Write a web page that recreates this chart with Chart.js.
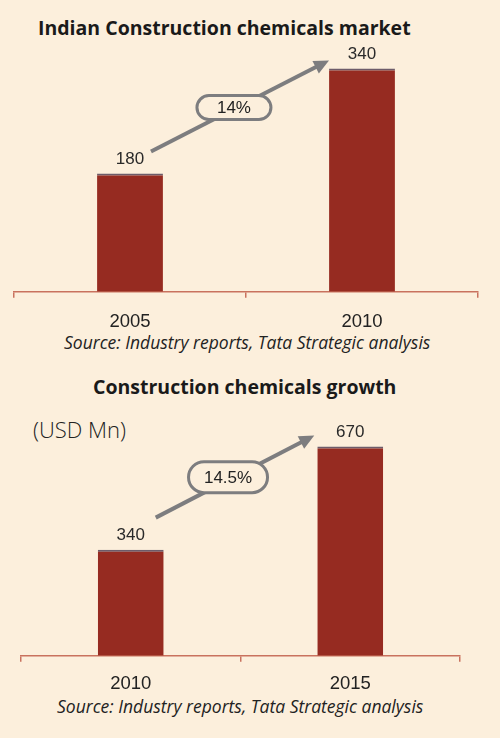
<!DOCTYPE html>
<html><head><meta charset="utf-8">
<script src="https://cdn.jsdelivr.net/npm/chart.js@4.4.1/dist/chart.umd.min.js"></script>
<style>
html,body{margin:0;padding:0;background:#fcefdc;width:500px;height:738px;overflow:hidden}
.t{position:absolute;white-space:nowrap;line-height:1;transform:translateY(-50%)}
.title{font-family:"Open Sans",sans-serif;font-weight:700;font-size:19.5px;color:#1a1a1a}
.src{font-family:"Open Sans",sans-serif;font-style:italic;font-size:17.5px;color:#222}
.unit{font-family:"Open Sans",sans-serif;font-weight:300;font-size:22px;color:#222}
canvas{position:absolute;left:0}
</style></head><body>
<div class="t title" style="left:38px;top:28px">Indian Construction chemicals market</div>
<div class="t src" style="left:64px;top:343px">Source: Industry reports, Tata Strategic analysis</div>
<div class="t title" style="left:93px;top:387px">Construction chemicals growth</div>
<div class="t unit" style="left:33px;top:429px">(USD Mn)</div>
<div class="t src" style="left:57px;top:707px">Source: Industry reports, Tata Strategic analysis</div>
<canvas id="c1" width="500" height="346" style="top:0px"></canvas>
<canvas id="c2" width="500" height="346" style="top:360px"></canvas>
<script>
// ---- data ----
const categories1 = ['2005', '2010'];
const values1 = [180, 340];
const growth1 = '14%';
const categories2 = ['2010', '2015'];
const values2 = [340, 670];
const growth2 = '14.5%';

const BAR = '#962b21';
const AXIS = '#c9725e';
const ARROW = '#7d7d7f';
const BG = '#fcefdc';

const valueLabels = {
  id: 'valueLabels',
  afterDatasetsDraw(chart) {
    const ctx = chart.ctx;
    const meta = chart.getDatasetMeta(0);
    const ds = chart.data.datasets[0];
    ctx.save();
    ctx.font = '17px Arial, "Liberation Sans"';
    ctx.fillStyle = '#2a2a2a';
    ctx.textAlign = 'center';
    ctx.textBaseline = 'middle';
    meta.data.forEach((b, i) => ctx.fillText(String(ds.data[i]), b.x, b.y - 14));
    ctx.restore();
  }
};

const growthArrow = {
  id: 'growthArrow',
  afterDatasetsDraw(chart, args, o) {
    const ctx = chart.ctx;
    const meta = chart.getDatasetMeta(0);
    const b0 = meta.data[0], b1 = meta.data[1];
    const sx = b0.x + o.sx, sy = b0.y + o.sy;
    const ex = b1.x + o.ex, ey = b1.y + o.ey;
    const ang = Math.atan2(ey - sy, ex - sx);
    const hl = 15, hw = 7;
    ctx.save();
    ctx.strokeStyle = ARROW;
    ctx.fillStyle = ARROW;
    ctx.lineWidth = 4;
    ctx.beginPath();
    ctx.moveTo(sx, sy);
    ctx.lineTo(ex - Math.cos(ang) * (hl - 2), ey - Math.sin(ang) * (hl - 2));
    ctx.stroke();
    ctx.beginPath();
    ctx.moveTo(ex, ey);
    ctx.lineTo(ex - Math.cos(ang) * hl - Math.sin(ang) * hw, ey - Math.sin(ang) * hl + Math.cos(ang) * hw);
    ctx.lineTo(ex - Math.cos(ang) * hl + Math.sin(ang) * hw, ey - Math.sin(ang) * hl - Math.cos(ang) * hw);
    ctx.closePath();
    ctx.fill();
    // pill
    const cx = sx + (ex - sx) * o.t, cy = sy + (ey - sy) * o.t + (o.dy || 0);
    const w = o.w, h = o.h, r = h / 2;
    ctx.beginPath();
    ctx.moveTo(cx - w / 2 + r, cy - h / 2);
    ctx.lineTo(cx + w / 2 - r, cy - h / 2);
    ctx.arc(cx + w / 2 - r, cy, r, -Math.PI / 2, Math.PI / 2);
    ctx.lineTo(cx - w / 2 + r, cy + h / 2);
    ctx.arc(cx - w / 2 + r, cy, r, Math.PI / 2, Math.PI * 1.5);
    ctx.closePath();
    ctx.fillStyle = BG;
    ctx.fill();
    ctx.lineWidth = 3;
    ctx.strokeStyle = ARROW;
    ctx.stroke();
    ctx.fillStyle = '#222';
    ctx.font = '17px Arial, "Liberation Sans"';
    ctx.textAlign = 'center';
    ctx.textBaseline = 'middle';
    ctx.fillText(o.text, cx, cy + 1);
    ctx.restore();
  }
};

function makeChart(id, cats, vals, yMax, barPct, pad, tickPad, arrowOpts) {
  return new Chart(document.getElementById(id), {
    type: 'bar',
    data: {
      labels: cats,
      datasets: [{
        data: vals,
        backgroundColor: BAR,
        borderColor: '#6d5c6a',
        borderWidth: { top: 2, left: 0, right: 0, bottom: 0 },
        borderSkipped: 'start',
        barPercentage: barPct,
        categoryPercentage: 1
      }]
    },
    options: {
      responsive: false,
      animation: false,
      devicePixelRatio: 1,
      layout: { padding: pad },
      plugins: {
        legend: { display: false },
        tooltip: { enabled: false },
        growthArrow: arrowOpts
      },
      scales: {
        x: {
          grid: { display: true, drawOnChartArea: false, drawTicks: true, tickLength: 6, color: AXIS, lineWidth: 1.5, offset: true },
          border: { display: true, color: AXIS, width: 1.5 },
          ticks: { color: '#222', font: { family: 'Arial', size: 18.5 }, padding: tickPad }
        },
        y: { display: false, min: 0, max: yMax }
      }
    },
    plugins: [valueLabels, growthArrow]
  });
}

makeChart('c1', categories1, values1, 400, 0.284,
  { top: 29, left: 14, right: 22, bottom: 0 }, 13,
  { sx: 21, sy: -22, ex: -33, ey: -8, t: 0.466, dy: -1.5, w: 74, h: 24, text: growth1 });

makeChart('c2', categories2, values2, 800, 0.30,
  { top: 46, left: 21, right: 40, bottom: 0 }, 11,
  { sx: 25, sy: -32, ex: -36, ey: -11, t: 0.456, dy: -3, w: 79, h: 31, text: growth2 });
</script>
</body></html>
